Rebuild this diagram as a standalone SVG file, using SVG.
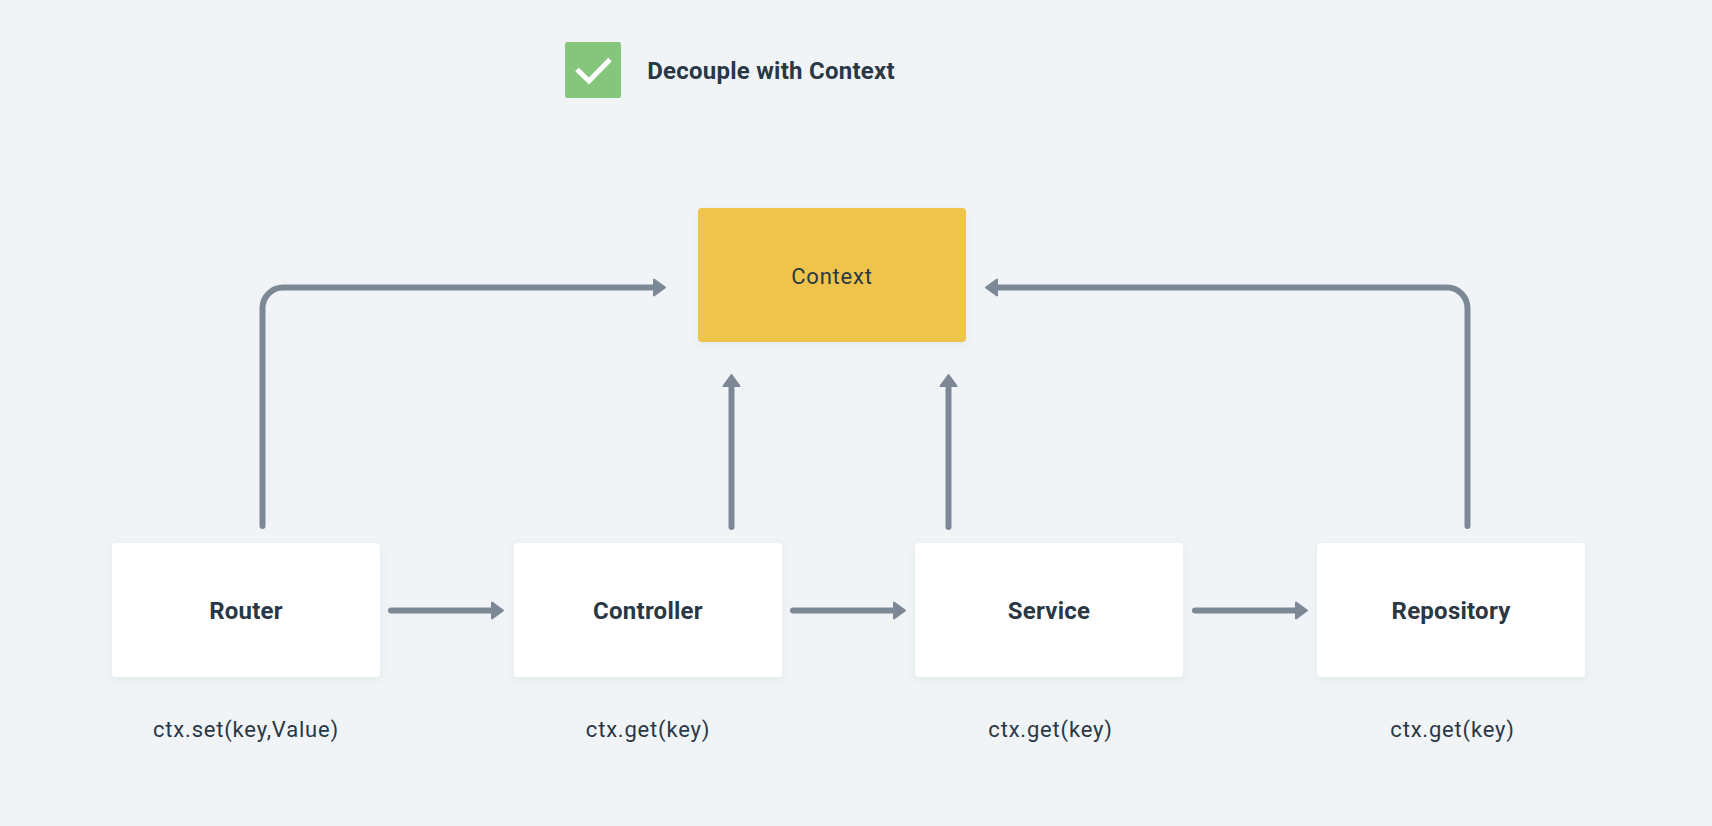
<svg xmlns="http://www.w3.org/2000/svg" width="1712" height="826" viewBox="0 0 1712 826">
<style>
.t{font-family:"Roboto","Liberation Sans",sans-serif;fill:#2a3744;text-anchor:middle}
.b{font-size:24px;font-weight:700;letter-spacing:.25px}
.r{font-size:22px;font-weight:400;letter-spacing:.8px}
.l{fill:none;stroke:#7d8896;stroke-width:6;stroke-linecap:round}
.h{fill:#7d8896;stroke:#7d8896;stroke-width:2;stroke-linejoin:round}
.n{fill:#fff;filter:url(#s)}
</style>
<defs><filter id="s" x="-10%" y="-15%" width="120%" height="140%"><feDropShadow dx="0" dy="3" stdDeviation="4" flood-color="#7d8896" flood-opacity=".12"/></filter></defs>
<rect width="1712" height="826" fill="#f0f4f7"/>
<g id="legend">
<rect x="565" y="42" width="56" height="56" rx="2.500" fill="#86c57c"/>
<path d="M577 69.500L589 81L610 59.500" fill="none" stroke="#fff" stroke-width="5"/>
<text class="t b" x="771" y="79">Decouple with Context</text>
</g>
<g id="connectors">
<path class="l" d="M262.500 526V308A20.500 20.500 0 0 1 283 287.500H655"/><path class="h" d="M654 279.500L665 287.500L654 295.500Z"/>
<path class="l" d="M1467.500 526V308A20.500 20.500 0 0 0 1447 287.500H998"/><path class="h" d="M997 279.500L986 287.500L997 295.500Z"/>
<path class="l" d="M731.500 527V385"/><path class="h" d="M723.500 386L731.500 375L739.500 386Z"/>
<path class="l" d="M948.500 527V385"/><path class="h" d="M940.500 386L948.500 375L956.500 386Z"/>
<path class="l" d="M391 610.500H493"/><path class="h" d="M492 602.500L503 610.500L492 618.500Z"/>
<path class="l" d="M793 610.500H895"/><path class="h" d="M894 602.500L905 610.500L894 618.500Z"/>
<path class="l" d="M1195 610.500H1297"/><path class="h" d="M1296 602.500L1307 610.500L1296 618.500Z"/>
</g>
<g id="context"><rect x="698" y="208" width="268" height="134" rx="4" fill="#efc44b" filter="url(#s)"/><text class="t r" x="832" y="284">Context</text></g>
<g id="router"><rect class="n" x="112" y="543" width="268" height="134" rx="4"/><text class="t b" x="246" y="619">Router</text><text class="t r" x="246" y="737">ctx.set(key,Value)</text></g>
<g id="controller"><rect class="n" x="514" y="543" width="268" height="134" rx="4"/><text class="t b" x="648" y="619">Controller</text><text class="t r" x="648" y="737">ctx.get(key)</text></g>
<g id="service"><rect class="n" x="915" y="543" width="268" height="134" rx="4"/><text class="t b" x="1049" y="619">Service</text><text class="t r" x="1050.500" y="737">ctx.get(key)</text></g>
<g id="repository"><rect class="n" x="1317" y="543" width="268" height="134" rx="4"/><text class="t b" x="1451" y="619">Repository</text><text class="t r" x="1452.500" y="737">ctx.get(key)</text></g>
</svg>
